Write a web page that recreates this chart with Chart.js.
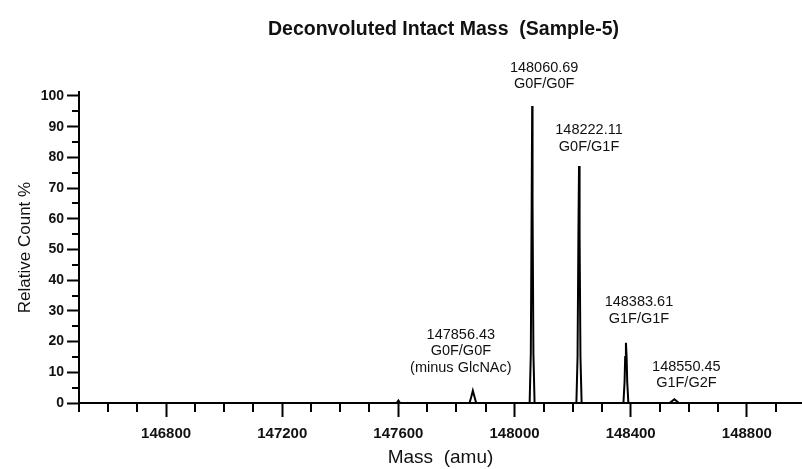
<!DOCTYPE html>
<html>
<head>
<meta charset="utf-8">
<title>Deconvoluted Intact Mass</title>
<script src="https://cdn.jsdelivr.net/npm/chart.js@4.4.1/dist/chart.umd.min.js"></script>
<style>
    body { margin: 0; background: #fff; }
    #box { width: 802px; height: 469px; }
</style>
</head>
<body>
<div id="box"><canvas id="graficoMassa" width="802" height="469"></canvas></div>
<script>
// deconvoluted spectrum, mass (amu) vs relative count (%)
const specMass = [146500, 147594, 147600, 147606, 147845, 147851, 147856.43, 147862, 147868,
    148052, 148056, 148059, 148060.69, 148062, 148065, 148069,
    148213, 148217, 148220, 148222.11, 148224, 148227, 148231,
    148375, 148379, 148381, 148383.61, 148386, 148388, 148392,
    148534, 148550.45, 148566, 148990]
const specCount = [0, 0, 0.8, 0, 0, 2, 4.0, 2, 0,
    0, 16, 65, 96.7, 65, 16, 0,
    0, 15, 55, 77.2, 55, 15, 0,
    0, 7, 15, 19.6, 15, 7, 0,
    0, 1.2, 0, 0]

// annotated peaks
const peakMass = [147856.43, 148060.69, 148222.11, 148383.61, 148550.45]
const peakName = [['G0F/G0F', '(minus GlcNAc)'], ['G0F/G0F'], ['G0F/G1F'], ['G1F/G1F'], ['G1F/G2F']]

// axis ranges and tick labels
const massMin = 146500
const massMax = 148990
const massTicks = [146800, 147200, 147600, 148000, 148400, 148800]
const massMinorStep = 100
const countMax = 101.3
const countTicks = [0, 10, 20, 30, 40, 50, 60, 70, 80, 90, 100]
const countMinorStep = 5

const fonte = 'Liberation Sans, Arial, sans-serif'

let pontos = []
for (let i = 0; i < specMass.length; i++) {
    pontos.push({ x: specMass[i], y: specCount[i] })
}

// label placement next to each peak (px)
const labelDx = [-12, 12, 10, 13, 12]
const labelGap = [23, 22, 19, 24, 16]

const rotulosPicos = {
    id: 'rotulosPicos',
    afterDatasetsDraw(chart) {
        const ctx = chart.ctx
        const x = chart.scales.x
        const y = chart.scales.y
        ctx.save()
        ctx.fillStyle = '#111'
        ctx.font = '14.5px ' + fonte
        ctx.textAlign = 'center'
        ctx.textBaseline = 'middle'
        for (let i = 0; i < peakMass.length; i++) {
            const idx = specMass.indexOf(peakMass[i])
            const topo = y.getPixelForValue(specCount[idx])
            const cx = x.getPixelForValue(peakMass[i]) + labelDx[i]
            const linhas = [peakMass[i].toFixed(2)].concat(peakName[i])
            let ly = topo - labelGap[i]
            for (let j = linhas.length - 1; j >= 0; j--) {
                ctx.fillText(linhas[j], cx, ly)
                ly -= 16.5
            }
        }
        ctx.restore()
    }
}

// short minor ticks between the labelled ones, plus the title
const ticksMenores = {
    id: 'ticksMenores',
    afterDraw(chart) {
        const ctx = chart.ctx
        const x = chart.scales.x
        const y = chart.scales.y
        const area = chart.chartArea
        ctx.save()
        ctx.strokeStyle = '#000'
        ctx.lineWidth = 2
        ctx.beginPath()
        for (let v = Math.ceil(massMin / massMinorStep) * massMinorStep; v <= massMax; v += massMinorStep) {
            if (massTicks.indexOf(v) >= 0) continue
            const px = Math.round(x.getPixelForValue(v))
            ctx.moveTo(px, area.bottom)
            ctx.lineTo(px, area.bottom + 9)
        }
        for (let v = countMinorStep; v < countMax; v += 10) {
            const py = Math.round(y.getPixelForValue(v))
            ctx.moveTo(area.left, py)
            ctx.lineTo(area.left - 7, py)
        }
        ctx.stroke()

        ctx.fillStyle = '#111'
        ctx.font = 'bold 19.5px ' + fonte
        ctx.textAlign = 'center'
        ctx.textBaseline = 'middle'
        ctx.fillText('Deconvoluted Intact Mass  (Sample-5)', (area.left + area.right) / 2 + 3, 30)
        ctx.restore()
    }
}

new Chart(document.getElementById('graficoMassa'), {
    type: 'line',
    data: {
        datasets: [
            {
                data: pontos,
                borderColor: '#000',
                borderWidth: 2,
                pointRadius: 0,
                tension: 0,
                fill: false
            }
        ]
    },
    options: {
        responsive: false,
        animation: false,
        layout: {
            padding: { top: 92, right: 0, left: 0, bottom: 0 }
        },
        plugins: {
            legend: { display: false },
            tooltip: { enabled: false },
            title: { display: false }
        },
        scales: {
            x: {
                type: 'linear',
                min: massMin,
                max: massMax,
                afterFit: function (scale) { scale.height = 66 },
                afterBuildTicks: function (scale) {
                    scale.ticks = massTicks.map(function (v) { return { value: v } })
                },
                ticks: {
                    autoSkip: false,
                    maxRotation: 0,
                    padding: 8,
                    color: '#111',
                    font: { family: fonte, size: 15, weight: 'bold' },
                    callback: function (value) { return String(value) }
                },
                grid: {
                    drawOnChartArea: false,
                    drawTicks: true,
                    tickLength: 14,
                    tickWidth: 2,
                    tickColor: '#000'
                },
                border: { display: true, color: '#000', width: 2 },
                title: {
                    display: true,
                    text: 'Mass  (amu)',
                    color: '#111',
                    padding: { top: 0, bottom: 0 },
                    font: { family: fonte, size: 19 }
                }
            },
            y: {
                min: 0,
                max: countMax,
                afterFit: function (scale) { scale.width = 79 },
                afterBuildTicks: function (scale) {
                    scale.ticks = countTicks.map(function (v) { return { value: v } })
                },
                ticks: {
                    padding: 3,
                    color: '#111',
                    font: { family: fonte, size: 14, weight: 'bold' },
                    callback: function (value) { return String(value) }
                },
                grid: {
                    drawOnChartArea: false,
                    drawTicks: true,
                    tickLength: 12,
                    tickWidth: 2,
                    tickColor: '#000'
                },
                border: { display: true, color: '#000', width: 2 },
                title: {
                    display: true,
                    text: 'Relative Count %',
                    color: '#111',
                    padding: { top: 15, bottom: 0 },
                    font: { family: fonte, size: 17 }
                }
            }
        }
    },
    plugins: [rotulosPicos, ticksMenores]
});
</script>
</body>
</html>
